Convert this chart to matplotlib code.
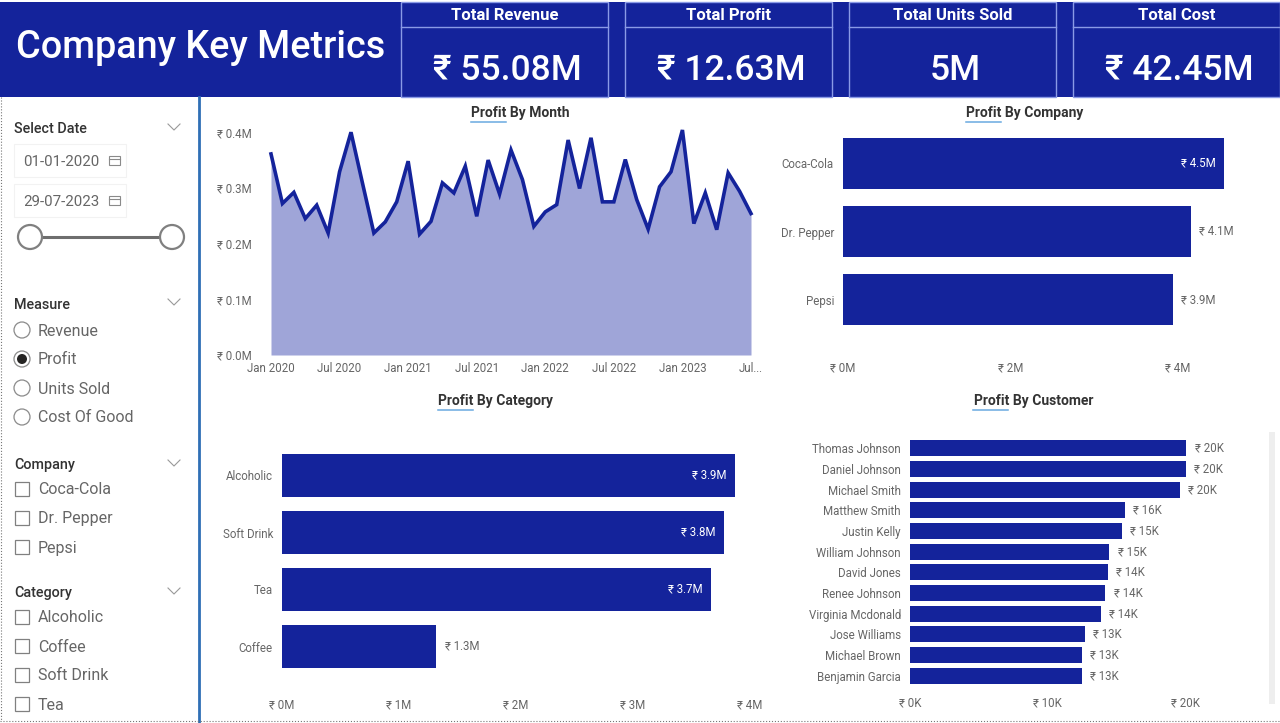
import matplotlib
matplotlib.use('Agg')
import matplotlib.pyplot as plt
from matplotlib.patches import Circle, Rectangle

W, H = 1280, 723
NAVY = '#14239b'
FILL = '#9fa5d8'
CARD_LINE = '#8a9ae6'
GREY = '#666666'
DARK = '#333333'
TICK_SIZE = 8.3
FONT = ['Roboto', 'DejaVu Sans']
plt.rcParams['font.family'] = FONT

kpi_titles = ['Total Revenue', 'Total Profit', 'Total Units Sold', 'Total Cost']
kpi_values = ['₹ 55.08M', '₹ 12.63M', '5M', '₹ 42.45M']

months = list(range(43))
month_ticks = [0, 6, 12, 18, 24, 30, 36, 42]
month_labels = ['Jan 2020', 'Jul 2020', 'Jan 2021', 'Jul 2021', 'Jan 2022', 'Jul 2022', 'Jan 2023', 'Jul...']
profit_month = [.361, .272, .292, .245, .269, .219, .329, .400, .309, .219, .239, .275,
                .348, .217, .240, .309, .291, .339, .249, .350, .289, .368, .315, .231,
                .257, .270, .386, .299, .390, .275, .275, .351, .279, .226, .302, .329,
                .404, .236, .291, .225, .327, .294, .254]

companies = ['Coca-Cola', 'Dr. Pepper', 'Pepsi']
profit_company = [4.55, 4.155, 3.94]
company_labels = ['₹ 4.5M', '₹ 4.1M', '₹ 3.9M']

categories = ['Alcoholic', 'Soft Drink', 'Tea', 'Coffee']
profit_category = [3.87, 3.78, 3.67, 1.32]
category_labels = ['₹ 3.9M', '₹ 3.8M', '₹ 3.7M', '₹ 1.3M']

customers = ['Thomas Johnson', 'Daniel Johnson', 'Michael Smith', 'Matthew Smith', 'Justin Kelly',
             'William Johnson', 'David Jones', 'Renee Johnson', 'Virginia Mcdonald', 'Jose Williams',
             'Michael Brown', 'Benjamin Garcia']
profit_customer = [20.1, 20.05, 19.6, 15.6, 15.4, 14.5, 14.4, 14.2, 13.9, 12.7, 12.5, 12.5]
customer_labels = ['₹ 20K', '₹ 20K', '₹ 20K', '₹ 16K', '₹ 15K', '₹ 15K', '₹ 14K', '₹ 14K', '₹ 14K',
                   '₹ 13K', '₹ 13K', '₹ 13K']

slicer_measure = ['Revenue', 'Profit', 'Units Sold', 'Cost Of Good']
slicer_company = ['Coca-Cola', 'Dr. Pepper', 'Pepsi']
slicer_category = ['Alcoholic', 'Coffee', 'Soft Drink', 'Tea']


def axes_px(fig, left, top, right, bottom):
    return fig.add_axes([left / W, 1 - bottom / H, (right - left) / W, (bottom - top) / H])


def chart_title(bg, x, y, text, left):
    bg.text(x, y, text, fontsize=10, fontweight='bold', color=DARK, ha='center', va='center')
    bg.plot([left, left + 35], [y + 8.5, y + 8.5], color='#6aa9e0', lw=1.1)


def hbar_chart(fig, box, names, values, labels, xmax, ticks, tick_labels, height, xpad, inside=()):
    ax = axes_px(fig, *box)
    ypos = list(range(len(names)))
    ax.barh(ypos, values, height=height, color=NAVY)
    ax.set_xlim(0, xmax)
    ax.set_ylim(len(names) - 0.5, -0.5)
    ax.set_yticks(ypos, names)
    ax.set_xticks(ticks, tick_labels)
    ax.tick_params(length=0, labelsize=TICK_SIZE, labelcolor=GREY)
    ax.tick_params(axis='y', pad=6.5)
    ax.tick_params(axis='x', pad=xpad)
    for s in ax.spines.values():
        s.set_visible(False)
    for i, (v, lab) in enumerate(zip(values, labels)):
        if i in inside:
            ax.annotate(lab, (v, i), xytext=(-6, 0), textcoords='offset points', ha='right',
                        va='center', fontsize=TICK_SIZE, color='white')
        else:
            ax.annotate(lab, (v, i), xytext=(6, 0), textcoords='offset points', ha='left',
                        va='center', fontsize=TICK_SIZE, color=GREY)
    return ax


def chevron(bg, x, y):
    bg.plot([x - 6, x, x + 6], [y - 3, y + 3, y - 3], color='#999999', lw=0.8)


def draw_sidebar(bg):
    bg.text(14, 129, 'Select Date', fontsize=10.4, fontweight='medium', color=DARK, va='center')
    chevron(bg, 174, 127)
    for y, label in [(161, '01-01-2020'), (201, '29-07-2023')]:
        bg.add_patch(Rectangle((14, y - 17), 112, 33, fc='white', ec='#f2f2f2', lw=0.8))
        bg.text(23, y + 1, label, fontsize=10.8, color=GREY, va='center')
        bg.add_patch(Rectangle((109, y - 5), 11, 9, fc='white', ec='#8a8a8a', lw=0.8))
        bg.plot([109, 120], [y - 2, y - 2], color='#8a8a8a', lw=0.8)
    bg.plot([30, 172], [237, 237], color='#6e6e6e', lw=2.2)
    for x in (30, 172):
        bg.add_patch(Circle((x, 237), 12, fc='white', ec='#808080', lw=1.6, zorder=3))

    bg.text(14, 305, 'Measure', fontsize=10.4, fontweight='medium', color=DARK, va='center')
    chevron(bg, 174, 302)
    for i, label in enumerate(slicer_measure):
        y = 330 + i * 29
        bg.add_patch(Circle((22, y), 8, fc='white', ec='#8a8a8a', lw=0.9))
        if label == 'Profit':
            bg.add_patch(Circle((22, y), 5, fc='#252423', ec='none'))
        bg.text(38, y + 1, label, fontsize=11.5, color=GREY, va='center')

    for title, items, ty in [('Company', slicer_company, 464), ('Category', slicer_category, 592)]:
        bg.text(14, ty + 1, title, fontsize=10.4, fontweight='medium', color=DARK, va='center')
        chevron(bg, 174, ty - 1)
        for i, label in enumerate(items):
            y = ty + 25 + i * 29
            bg.add_patch(Rectangle((15, y - 7), 14, 14, fc='white', ec='#808080', lw=0.9))
            bg.text(38, y + 1, label, fontsize=11.5, color=GREY, va='center')


def draw_header(bg):
    bg.add_patch(Rectangle((0, 2), W, 95, fc=NAVY, ec='none'))
    bg.text(16, 48, 'Company Key Metrics', fontsize=27.2, fontweight='medium', color='white', va='center')
    for left, title, value in zip([401, 625, 849, 1073], kpi_titles, kpi_values):
        right = left + 207
        bg.add_patch(Rectangle((left, 2), 207, 95, fc='none', ec=CARD_LINE, lw=1))
        bg.plot([left, right], [27, 27], color=CARD_LINE, lw=1)
        mid = left + 104
        bg.text(mid, 15, title, fontsize=12, fontweight='bold', color='white', ha='center', va='center')
        bg.text(mid + 2, 71, value, fontsize=25.5, fontweight='medium', color='white', ha='center', va='center')


fig = plt.figure(figsize=(W / 100, H / 100), dpi=100, facecolor='white')
bg = fig.add_axes([0, 0, 1, 1])
bg.set_xlim(0, W)
bg.set_ylim(H, 0)
bg.axis('off')

draw_header(bg)
draw_sidebar(bg)
bg.plot([199, 199], [97, 723], color='#2f6fb5', lw=2)
bg.plot([1, 1], [97, 721], color='#777777', lw=0.8, ls=':')
bg.plot([0, 1280], [721, 721], color='#777777', lw=0.8, ls=':')
bg.add_patch(Rectangle((1269, 432), 6, 272, fc='#eeeeee', ec='none'))

chart_title(bg, 520, 113, 'Profit By Month', 471)
chart_title(bg, 1025, 113, 'Profit By Company', 966)
chart_title(bg, 496, 401, 'Profit By Category', 438)
chart_title(bg, 1034, 401, 'Profit By Customer', 973)

ax = axes_px(fig, 271, 130, 751, 355)
ax.fill_between(months, profit_month, color=FILL, lw=0)
ax.plot(months, profit_month, color=NAVY, lw=2.6, solid_joinstyle='miter', clip_on=False)
ax.set_xlim(0, 42)
ax.set_ylim(0, 0.404)
ax.set_xticks(month_ticks, month_labels)
ax.set_yticks([0, .1, .2, .3, .4], ['₹ 0.0M', '₹ 0.1M', '₹ 0.2M', '₹ 0.3M', '₹ 0.4M'])
ax.tick_params(length=0, labelsize=TICK_SIZE, labelcolor=GREY)
ax.tick_params(axis='y', pad=14)
ax.tick_params(axis='x', pad=5)
for s in ax.spines.values():
    s.set_visible(False)
ax.patch.set_alpha(0)

hbar_chart(fig, (843, 129, 1245, 334), companies, profit_company, company_labels,
           4.8, [0, 2, 4], ['₹ 0M', '₹ 2M', '₹ 4M'], 0.75, 19.5, inside=(0,))
hbar_chart(fig, (282, 447, 760, 675), categories, profit_category, category_labels,
           4.085, [0, 1, 2, 3, 4], ['₹ 0M', '₹ 1M', '₹ 2M', '₹ 3M', '₹ 4M'], 0.76, 17, inside=(0, 1, 2))
hbar_chart(fig, (910, 438, 1260, 686), customers, profit_customer, customer_labels,
           25.45, [0, 10, 20], ['₹ 0K', '₹ 10K', '₹ 20K'], 0.76, 7.5)

fig.savefig('out.png', dpi=100)
